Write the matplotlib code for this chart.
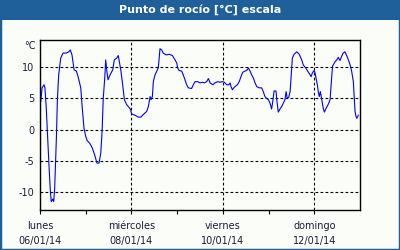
import numpy as np
import matplotlib
matplotlib.use("Agg")
import matplotlib.pyplot as plt
from matplotlib.patches import Rectangle

# hours since lunes 06/01/14 00:00, dew point in degC
hours = [0.4, 1.1, 2.1, 2.6, 3.3, 4.2, 4.7, 5.4, 5.9, 6.7, 7.2, 7.7, 8.6, 9.1, 9.8,
         10.9, 12.1, 13.8, 15.1, 15.9, 16.8, 17.9, 19.1, 20.0, 21.4, 22.2, 23.1, 24.0,
         24.8, 26.1, 27.5, 28.7, 29.9, 31.0, 31.9, 32.6, 33.2, 34.0, 34.5, 35.0, 35.7,
         36.8, 38.2, 39.0, 40.3, 41.1, 41.6, 42.5, 43.4, 44.3, 45.5, 46.9, 47.6, 48.1,
         49.9, 51.6, 53.0, 54.2, 56.0, 56.9, 57.8, 58.3, 59.0, 59.5, 60.4, 61.3, 62.1,
         63.0, 63.9, 64.7, 66.2, 67.9, 69.5, 70.9, 71.8, 72.3, 73.0, 74.4, 75.2, 76.1,
         77.0, 77.9, 79.6, 80.5, 81.4, 82.8, 84.0, 85.2, 86.3, 87.5, 88.4, 89.3, 90.7,
         91.9, 93.3, 94.5, 95.7, 96.8, 98.0, 99.2, 99.8, 100.3, 101.0, 102.0, 103.6,
         104.6, 105.5, 106.4, 107.6, 108.5, 109.4, 110.3, 111.1, 112.0, 112.9, 113.8,
         115.1, 116.4, 117.2, 118.1, 119.0, 119.9, 120.8, 121.6, 122.2, 122.9, 123.9,
         124.3, 125.1, 126.0, 126.9, 127.7, 128.6, 129.2, 129.8, 130.6, 131.3, 131.8,
         132.5, 133.4, 134.8, 136.1, 137.4, 138.2, 139.5, 140.5, 141.8, 142.3, 143.0,
         143.9, 144.4, 144.9, 145.6, 146.1, 146.6, 147.2, 147.9, 148.7, 149.3, 150.2,
         151.4, 152.3, 153.1, 153.6, 154.9, 155.8, 156.6, 157.5, 158.4, 159.2, 160.1,
         161.0, 161.9, 162.8, 163.6, 164.5, 165.0, 165.4, 165.9, 166.4, 167.1]
dew = [4.5, 6.7, 7.2, 6.7, 3.4, -2.5, -5.7, -9.7, -11.6, -11.2, -11.6, -9.5, -1.4, 4.5, 8.8,
       11.5, 12.3, 12.3, 12.5, 12.8, 12.0, 9.6, 9.4, 8.5, 6.7, 3.4, 0.2, -1.1,
       -1.8, -2.2, -3.0, -4.1, -5.4, -5.4, -3.8, -0.3, 5.0, 8.3, 11.2, 9.6, 8.0,
       8.8, 9.6, 11.2, 11.5, 11.9, 11.0, 9.4, 7.2, 4.8, 4.0, 3.5, 3.2, 2.5,
       2.3, 2.0, 2.0, 2.4, 2.9, 3.7, 5.3, 4.8, 5.3, 7.7, 8.8, 9.4, 9.9,
       13.0, 12.8, 12.3, 12.0, 12.1, 11.9, 11.2, 10.7, 9.9, 9.5, 9.4, 8.8, 8.0,
       7.2, 6.7, 6.6, 7.2, 7.7, 7.7, 7.5, 7.6, 7.5, 7.7, 8.2, 7.5, 7.2,
       7.5, 7.7, 7.6, 7.7, 7.6, 7.2, 7.2, 7.5, 6.9, 6.4, 6.8, 7.2,
       7.7, 8.5, 9.2, 9.4, 9.5, 9.9, 9.4, 8.8, 8.3, 7.5, 6.9,
       6.7, 6.7, 6.1, 5.3, 5.0, 4.8, 4.2, 3.3, 4.5, 6.2, 6.2,
       4.8, 2.8, 3.3, 3.7, 4.2, 4.8, 6.1, 5.0, 5.2, 6.1, 8.3,
       11.5, 12.1, 12.5, 12.1, 11.2, 10.4, 9.9, 9.4, 8.8, 8.5, 9.1,
       9.5, 9.1, 8.3, 7.2, 6.1, 5.3, 6.1, 4.8, 3.4, 2.8, 3.4,
       4.1, 4.8, 8.3, 10.2, 10.9, 11.2, 11.6, 11.1, 11.8, 12.3, 12.5,
       11.9, 11.2, 10.4, 9.4, 7.7, 5.0, 2.9, 2.1, 1.8, 2.3]

day_ticks = [0, 48, 96, 144]
day_labels = ["lunes\n06/01/14", "miércoles\n08/01/14", "viernes\n10/01/14", "domingo\n12/01/14"]
y_ticks = [-10, -5, 0, 5, 10]

bg = "#fbfdf9"
bar = "#20609a"
txt = "#1c1c3a"

fig = plt.figure(figsize=(4, 2.5), dpi=100, facecolor=bg)
fig.patches.append(Rectangle((0, 230 / 250), 1, 20 / 250, transform=fig.transFigure,
                             facecolor=bar, edgecolor="none", zorder=0))
fig.patches.append(Rectangle((0, 0), 1, 1, transform=fig.transFigure,
                             facecolor="none", edgecolor=bar, linewidth=2.5, zorder=1))
fig.text(0.5, 240 / 250, "Punto de rocío [°C] escala", color="white", fontsize=8,
         fontweight="bold", ha="center", va="center")

ax = fig.add_axes([40 / 400, 40 / 250, 320 / 400, 170 / 250])
ax.set_facecolor(bg)
ax.plot(hours, dew, color="#0000ff", linewidth=0.8)

ax.set_xlim(0, 168)
ax.set_ylim(-12.95, 14.4)
ax.set_xticks(day_ticks)
ax.set_xticklabels(day_labels, fontsize=7, color=txt, linespacing=1.6)
ax.set_xticks(range(24, 168, 48), minor=True)
ax.set_yticks(y_ticks)
ax.set_yticklabels([str(v) for v in y_ticks], fontsize=7, color=txt)
ax.tick_params(axis="x", which="both", length=3, width=0.8, pad=5, color="black")
ax.tick_params(axis="y", length=0, pad=4)
ax.grid(True, which="major", color="black", linestyle=(0, (2.5, 2)), linewidth=0.8)
for s in ax.spines.values():
    s.set_color("black")
    s.set_linewidth(1)

fig.text(36 / 400, 1 - 46 / 250, "°C", fontsize=7, color=txt, ha="right", va="center")

fig.savefig("out.png", dpi=100, facecolor=bg)
